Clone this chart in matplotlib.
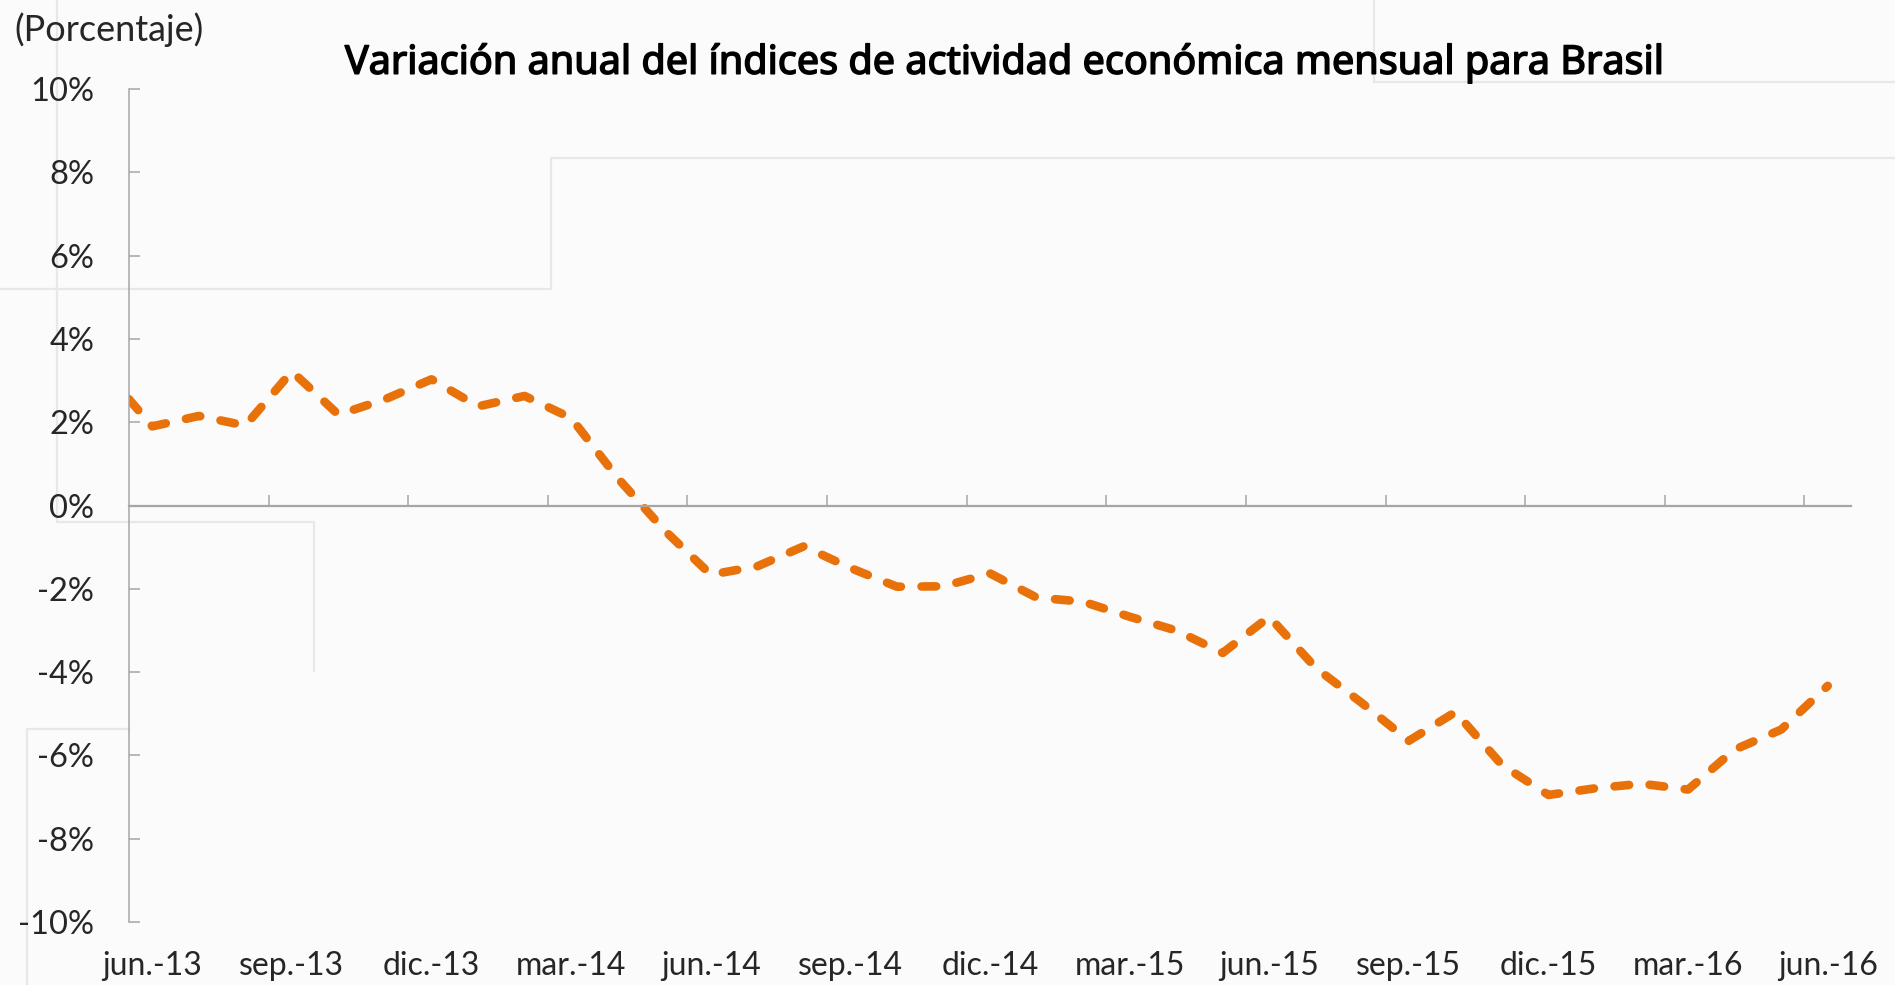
import matplotlib
matplotlib.use("Agg")
import matplotlib.pyplot as plt
import matplotlib.patheffects as pe
from matplotlib.lines import Line2D


# ============================================================
# DATA
# ============================================================

# first month (may-13) sits left of the axis and is clipped by the plot area
MONTHS = [
    "may-13", "jun-13", "jul-13", "ago-13", "sep-13", "oct-13", "nov-13", "dic-13",
    "ene-14", "feb-14", "mar-14", "abr-14", "may-14", "jun-14", "jul-14", "ago-14",
    "sep-14", "oct-14", "nov-14", "dic-14", "ene-15", "feb-15", "mar-15", "abr-15",
    "may-15", "jun-15", "jul-15", "ago-15", "sep-15", "oct-15", "nov-15", "dic-15",
    "ene-16", "feb-16", "mar-16", "abr-16", "may-16", "jun-16",
]

IBC_BR_YOY = [
    3.20, 1.90, 2.15, 1.92, 3.22, 2.18, 2.55, 3.03,
    2.38, 2.63, 2.10, 0.66, -0.59, -1.66, -1.46, -0.98,
    -1.50, -1.95, -1.94, -1.63, -2.21, -2.31, -2.67, -3.00,
    -3.54, -2.67, -3.90, -4.75, -5.65, -4.96, -6.23, -6.95,
    -6.79, -6.68, -6.82, -5.86, -5.38, -4.33,
]

X_LABELS = [
    "jun.-13", "sep.-13", "dic.-13", "mar.-14", "jun.-14", "sep.-14", "dic.-14",
    "mar.-15", "jun.-15", "sep.-15", "dic.-15", "mar.-16", "jun.-16",
]

Y_TICKS = [10, 8, 6, 4, 2, 0, -2, -4, -6, -8, -10]

TITLE = "Variación anual del índices de actividad económica mensual para Brasil"
UNIT_LABEL = "(Porcentaje)"

# faint screenshot borders in the background (pixel coords, top-left origin)
BG_LINES = [
    [(0, 289), (551, 289), (551, 158), (1895, 158)],
    [(1374, 0), (1374, 82), (1895, 82)],
    [(57, 0), (57, 522), (314, 522), (314, 671)],
    [(129, 729), (27, 729), (27, 985)],
]


# ============================================================
# SETTINGS
# ============================================================

W, H = 1895, 985
DPI = 100
ORANGE = "#E8710A"
AXIS_GREY = "#a6a6a6"
TEXT = "#262626"
FONT = ["Lato", "DejaVu Sans"]


def main() -> None:
    plt.rcParams["font.family"] = FONT

    fig = plt.figure(figsize=(W / DPI, H / DPI), dpi=DPI, facecolor="#fbfbfb")

    for pts in BG_LINES:
        xs = [p[0] / W for p in pts]
        ys = [1 - p[1] / H for p in pts]
        fig.add_artist(Line2D(xs, ys, transform=fig.transFigure,
                              color="#e8e8e8", linewidth=1.6, zorder=0))

    ax = fig.add_axes([129 / W, 1 - 922 / H, (1851 - 129) / W, (922 - 89) / H])
    ax.set_facecolor("none")

    x = list(range(-1, len(MONTHS) - 1))
    line, = ax.plot(x, IBC_BR_YOY, color=ORANGE, linewidth=6.2,
                    dash_capstyle="round", solid_joinstyle="round")
    line.set_dashes((1.7, 2.4))

    n = len(MONTHS) - 1
    ax.set_xlim(-0.5, n - 0.5)
    ax.set_ylim(-10, 10)

    # spines
    for side in ("top", "right"):
        ax.spines[side].set_visible(False)
    ax.spines["bottom"].set_position(("data", 0))
    ax.spines["bottom"].set_color(AXIS_GREY)
    ax.spines["bottom"].set_linewidth(1.6)
    ax.spines["left"].set_color(AXIS_GREY)
    ax.spines["left"].set_linewidth(1.1)

    # y axis
    ax.set_yticks(Y_TICKS)
    ax.set_yticklabels([f"{v}%" for v in Y_TICKS])
    ax.tick_params(axis="y", direction="in", length=8, width=1.1,
                   color=AXIS_GREY, labelsize=23.5, labelcolor=TEXT, pad=25)

    # x axis: tick marks between categories on the zero line
    ax.set_xticks([k - 0.5 for k in range(3, n, 3)])
    ax.tick_params(axis="x", direction="in", length=8, width=1.1,
                   color=AXIS_GREY, labelbottom=False)

    # category labels along the bottom
    sec = ax.secondary_xaxis("bottom")
    sec.set_xticks(list(range(0, n, 3)))
    sec.set_xticklabels(X_LABELS)
    sec.spines["bottom"].set_visible(False)
    sec.tick_params(length=0, labelsize=23, labelcolor=TEXT, pad=21)

    fig.text(1005 / W, 1 - 63 / H, TITLE, ha="center", va="center",
             fontsize=28.5, color="black",
             family=["Noto Sans", "DejaVu Sans"],
             path_effects=[pe.withStroke(linewidth=1.1, foreground="black")])
    fig.text(14 / W, 1 - 30 / H, UNIT_LABEL, ha="left", va="center",
             fontsize=26, color=TEXT)

    fig.savefig("out.png", dpi=DPI, facecolor=fig.get_facecolor())
    plt.close(fig)


if __name__ == "__main__":
    main()
